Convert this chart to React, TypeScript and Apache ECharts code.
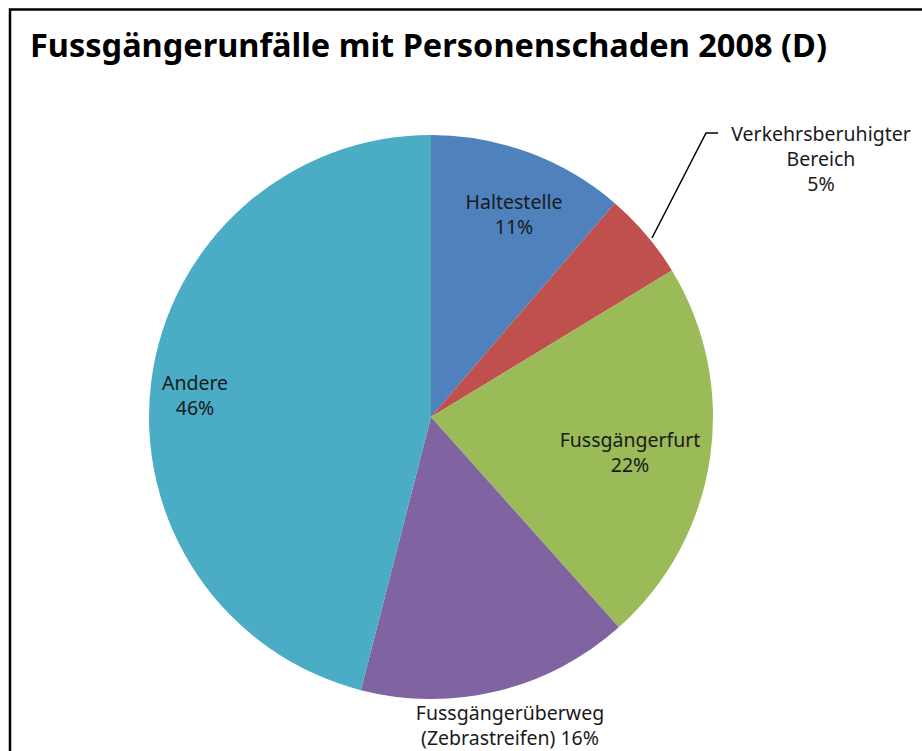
import React, { useEffect, useRef } from "react";
import * as echarts from "echarts";

const titleText = "Fussgängerunfälle mit Personenschaden 2008 (D)";
const categories = [
  "Haltestelle",
  "Verkehrsberuhigter\nBereich",
  "Fussgängerfurt",
  "Fussgängerüberweg\n(Zebrastreifen)",
  "Andere",
];
const values = [11.3, 5.0, 22.1, 15.6, 46.0];
const colors = ["#4F81BD", "#C0504D", "#9BBB59", "#8064A2", "#4BACC6"];
// label centres (layout only)
const labelPos: [number, number][] = [
  [514, 214],
  [821, 158],
  [630, 452],
  [510, 725],
  [195, 395],
];

export default function App() {
  const ref = useRef<HTMLDivElement>(null);
  useEffect(() => {
    if (!ref.current) return;
    const chart = echarts.init(ref.current, null, { renderer: "svg" });
    const font = "'Noto Sans', 'Open Sans', sans-serif";
    chart.setOption({
      animation: false,
      backgroundColor: "#ffffff",
      title: {
        text: titleText,
        left: 25,
        top: 23,
        textStyle: {
          fontFamily: font,
          fontWeight: "bold",
          fontSize: 32.5,
          color: "#000000",
        },
      },
      graphic: [
        {
          type: "rect",
          shape: { x: 10, y: 9.5, width: 1200, height: 1200 },
          style: { fill: "none", stroke: "#000000", lineWidth: 2.5 },
          silent: true,
        },
        {
          type: "polyline",
          shape: { points: [[652, 238], [706, 133], [718, 133]] },
          style: { stroke: "#000000", lineWidth: 1.5, fill: "none" },
          silent: true,
        },
      ],
      series: [
        {
          type: "pie",
          center: [431, 417],
          radius: 282,
          startAngle: 90,
          clockwise: true,
          data: values.map((v, i) => ({
            name: categories[i],
            value: v,
            itemStyle: { color: colors[i] },
          })),
          label: {
            show: true,
            position: "inside",
            fontFamily: font,
            fontSize: 19.5,
            lineHeight: 25,
            color: "#1a1a1a",
            align: "center",
            formatter: (p: any) => {
              const pct = Math.round(p.percent) + "%";
              if (p.dataIndex === 3) return p.name + " " + pct;
              return p.name + "\n" + pct;
            },
          },
          labelLine: { show: false },
          labelLayout: (params: any) => {
            const pos = labelPos[params.dataIndex];
            return {
              x: pos[0],
              y: pos[1],
              align: "center",
              verticalAlign: "middle",
            };
          },
        },
      ],
    });
    return () => chart.dispose();
  }, []);
  return (
    <div
      ref={ref}
      style={{ position: "fixed", left: 0, top: 0, width: 922, height: 751 }}
    />
  );
}
